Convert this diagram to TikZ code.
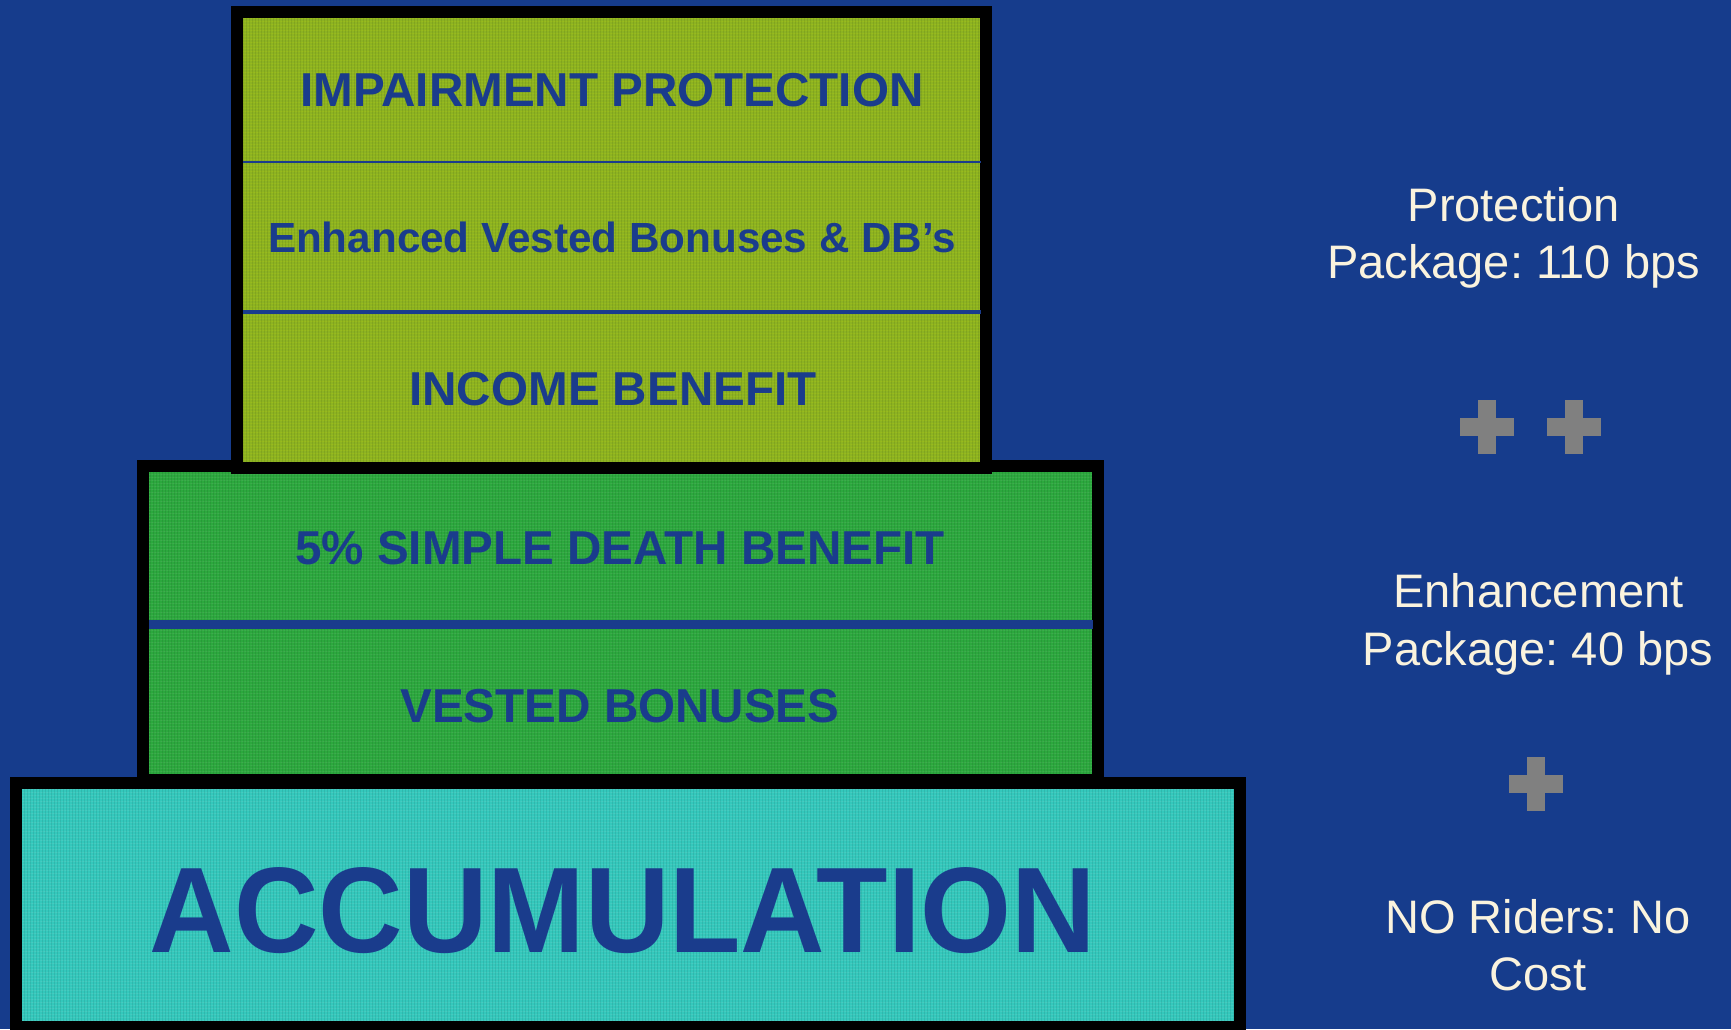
\documentclass[tikz,border=0pt]{standalone}
\usepackage{fontspec}
\usetikzlibrary{patterns.meta}
\setmainfont{Liberation Sans}
\frenchspacing
\definecolor{bg}{RGB}{22,60,140}
\definecolor{tierA}{RGB}{141,179,34}
\definecolor{tierB}{RGB}{44,168,62}
\definecolor{tierC}{RGB}{52,200,188}
\definecolor{labelblue}{RGB}{26,60,140}
\definecolor{cream}{RGB}{250,243,222}
\definecolor{plusgray}{RGB}{128,128,128}
\tikzset{
  tierbox/.style={draw=black, line width=12pt},
  texH/.style={pattern={Lines[angle=0,distance=3pt,line width=0.7pt]}, pattern color=#1},
  texV/.style={pattern={Lines[angle=90,distance=3pt,line width=0.7pt]}, pattern color=#1},
  boxlabel/.style={anchor=base, inner sep=0pt, text=labelblue, font=\bfseries\fontsize{47.6}{57}\selectfont},
  sidelabel/.style={anchor=base, inner sep=0pt, text=cream, font=\fontsize{47}{57}\selectfont},
  divider/.style={draw=labelblue},
  plusarm/.style={fill=plusgray, draw=none}
}
\begin{document}
\begin{tikzpicture}[x=1pt,y=-1pt]
\useasboundingbox (0,0) rectangle (1731,1029);
\fill[bg] (0,0) rectangle (1731,1029);
% bottom tier
\fill[tierC] (16,783) rectangle (1240,1027);
\fill[texH=tierC!75!white, opacity=0.35] (16,783) rectangle (1240,1027);
\fill[texV=tierC!70!black, opacity=0.25] (16,783) rectangle (1240,1027);
\draw[tierbox] (16,783) rectangle (1240,1027);
% middle tier
\fill[tierB] (143,466) rectangle (1098,780);
\fill[texH=tierB!75!white, opacity=0.3] (143,466) rectangle (1098,780);
\fill[texV=tierB!70!black, opacity=0.25] (143,466) rectangle (1098,780);
\draw[tierbox] (143,466) rectangle (1098,780);
\draw[divider, line width=9pt] (149,624.5) -- (1093,624.5);
% top tier
\fill[tierA] (237,12) rectangle (986,468);
\fill[texH=tierA!70!yellow, opacity=0.35] (237,12) rectangle (986,468);
\fill[texV=tierA!70!black, opacity=0.25] (237,12) rectangle (986,468);
\draw[tierbox] (237,12) rectangle (986,468);
\draw[divider, line width=2pt] (243,162) -- (981,162);
\draw[divider, line width=3.5pt] (243,312) -- (981,312);
% labels in boxes
\node[boxlabel] (imp) at (612,106) {IMPAIRMENT PROTECTION};
\node[boxlabel, font=\bfseries\fontsize{42.2}{50}\selectfont] (evb) at (612,252) {Enhanced Vested Bonuses \& DB’s};
\node[boxlabel] (inc) at (613,405) {INCOME BENEFIT};
\node[boxlabel] (sdb) at (620,564) {5\% SIMPLE DEATH BENEFIT};
\node[boxlabel] (vb) at (620,722) {VESTED BONUSES};
\node[boxlabel, font=\bfseries\fontsize{117}{130}\selectfont] (acc) at (623,952) {\scalebox{1}[1.04]{ACCUMULATION}};
% right side labels
\node[sidelabel] (prot1) at (1513.5,221) {Protection};
\node[sidelabel] (prot2) at (1513.5,278) {Package: 110 bps};
\node[sidelabel] (enh1) at (1538.5,607) {Enhancement};
\node[sidelabel] (enh2) at (1538,665) {Package: 40 bps};
\node[sidelabel] (nor1) at (1538,933) {NO Riders: No};
\node[sidelabel] (nor2) at (1538,990) {Cost};
% plus signs
\foreach \cx/\cy in {1487/426.5, 1574/426.5, 1536/784}{
  \fill[plusarm] (\cx-27,\cy-9) rectangle (\cx+27,\cy+9);
  \fill[plusarm] (\cx-9,\cy-27) rectangle (\cx+9,\cy+27);
}
\end{tikzpicture}
\end{document}
